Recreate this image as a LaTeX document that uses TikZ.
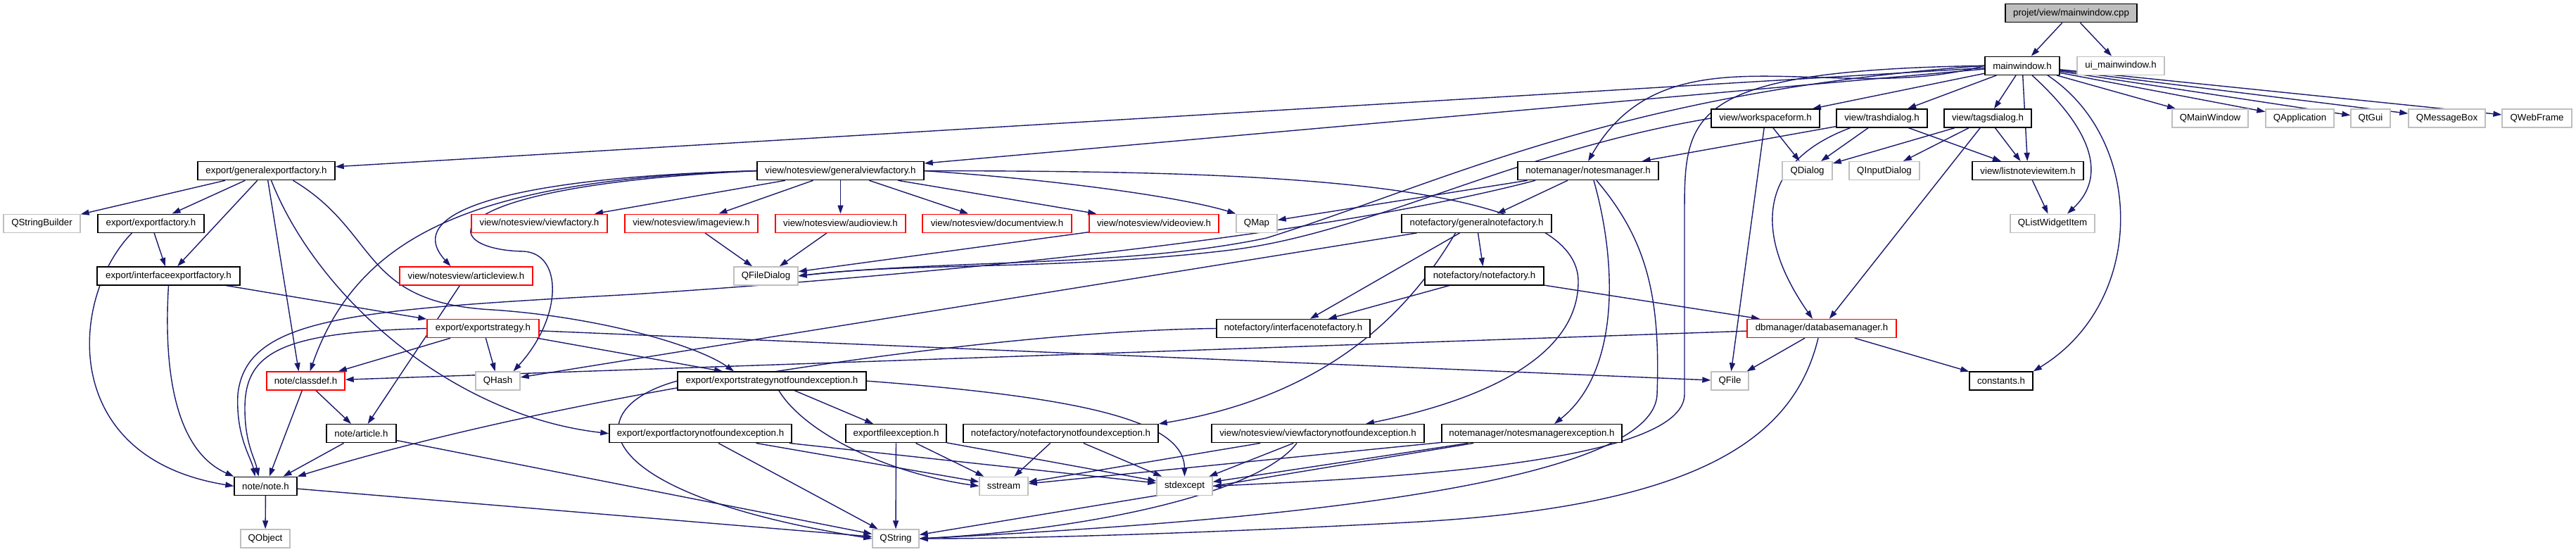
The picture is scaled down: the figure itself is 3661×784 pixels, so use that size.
\documentclass[tikz,border=0pt]{standalone}
\usepackage{fontspec}
\setmainfont{Liberation Sans}
\usetikzlibrary{arrows.meta}
\definecolor{edgeblue}{HTML}{191970}
\definecolor{greyseven}{HTML}{BFBFBF}
\newcommand{\dxfont}{\fontsize{13.3}{16}\selectfont}
\pgfdeclarelayer{background}
\pgfsetlayers{background,main}
\begin{document}
\begin{tikzpicture}[x=1pt,y=-1pt,
  nodebase/.style={rectangle, inner sep=0pt, minimum height=26pt, font=\dxfont, text=black, line width=1.4pt, fill=white},
  nb/.style={nodebase, draw=black},
  nr/.style={nodebase, draw=red},
  ng/.style={nodebase, draw=greyseven},
  nroot/.style={nodebase, draw=black, fill=greyseven},
  e/.style={draw=edgeblue, line width=1.4pt, -{Triangle[length=12pt,width=8pt]}}]
\useasboundingbox (0,0) rectangle (3661,784);
% row 0
\node[nroot, minimum width=187] (cpp) at (2943.5,18.7) {projet/view/mainwindow.cpp};
% row 1
\node[nb, minimum width=106] (mw) at (2874,93.3) {mainwindow.h};
\node[ng, minimum width=124] (ui) at (3014,93.3) {ui\_mainwindow.h};
% row 2
\node[nb, minimum width=154] (wsf) at (2509,168) {view/workspaceform.h};
\node[nb, minimum width=129] (trash) at (2674.5,168) {view/trashdialog.h};
\node[nb, minimum width=124] (tags) at (2825,168) {view/tagsdialog.h};
\node[ng, minimum width=108] (qmw) at (3141,168) {QMainWindow};
\node[ng, minimum width=97] (qapp) at (3268.5,168) {QApplication};
\node[ng, minimum width=56] (qgui) at (3369,168) {QtGui};
\node[ng, minimum width=109] (qmb) at (3477.5,168) {QMessageBox};
\node[ng, minimum width=99] (qwf) at (3605.5,168) {QWebFrame};
% row 3
\node[nb, minimum width=195] (gef) at (378.5,242.6) {export/generalexportfactory.h};
\node[nb, minimum width=237] (gvf) at (1194.5,242.6) {view/notesview/generalviewfactory.h};
\node[nb, minimum width=200] (nm) at (2257,242.6) {notemanager/notesmanager.h};
\node[ng, minimum width=71] (qdlg) at (2568.5,242.6) {QDialog};
\node[ng, minimum width=100] (qidlg) at (2678,242.6) {QInputDialog};
\node[nb, minimum width=158] (lnvi) at (2882,242.6) {view/listnoteviewitem.h};
% row 4
\node[ng, minimum width=109] (qsb) at (59.5,317.2) {QStringBuilder};
\node[nb, minimum width=151] (ef) at (214.5,317.2) {export/exportfactory.h};
\node[nr, minimum width=193] (vf) at (766.5,317.2) {view/notesview/viewfactory.h};
\node[nr, minimum width=189] (iv) at (982.5,317.2) {view/notesview/imageview.h};
\node[nr, minimum width=185] (av) at (1194.5,317.2) {view/notesview/audioview.h};
\node[nr, minimum width=212] (dv) at (1417,317.2) {view/notesview/documentview.h};
\node[nr, minimum width=184] (vv) at (1640,317.2) {view/notesview/videoview.h};
\node[ng, minimum width=58] (qmap) at (1786,317.2) {QMap};
\node[nb, minimum width=213] (gnf) at (2098.5,317.2) {notefactory/generalnotefactory.h};
\node[ng, minimum width=120] (qlwi) at (2917,317.2) {QListWidgetItem};
% row 5
\node[nb, minimum width=203] (ief) at (239.5,391.9) {export/interfaceexportfactory.h};
\node[nr, minimum width=189] (arv) at (662.5,391.9) {view/notesview/articleview.h};
\node[ng, minimum width=91] (qfd) at (1088.5,391.9) {QFileDialog};
\node[nb, minimum width=169] (nf) at (2109.5,391.9) {notefactory/notefactory.h};
% row 6
\node[nr, minimum width=159] (es) at (686.5,466.5) {export/exportstrategy.h};
\node[nb, minimum width=218] (inf) at (1838,466.5) {notefactory/interfacenotefactory.h};
\node[nr, minimum width=212] (dbm) at (2589,466.5) {dbmanager/databasemanager.h};
% row 7
\node[nr, minimum width=111] (cd) at (434.5,541.1) {note/classdef.h};
\node[ng, minimum width=63] (qhash) at (707.5,541.1) {QHash};
\node[nb, minimum width=268] (esnfe) at (1097,541.1) {export/exportstrategynotfoundexception.h};
\node[ng, minimum width=53] (qfile) at (2458.5,541.1) {QFile};
\node[nb, minimum width=90] (const) at (2844,541.1) {constants.h};
% row 8
\node[nb, minimum width=99] (art) at (513.5,615.7) {note/article.h};
\node[nb, minimum width=259] (efnfe) at (995.5,615.7) {export/exportfactorynotfoundexception.h};
\node[nb, minimum width=143] (efe) at (1273.5,615.7) {exportfileexception.h};
\node[nb, minimum width=277] (nfnfe) at (1507.5,615.7) {notefactory/notefactorynotfoundexception.h};
\node[nb, minimum width=302] (vfnfe) at (1873,615.7) {view/notesview/viewfactorynotfoundexception.h};
\node[nb, minimum width=256] (nme) at (2177,615.7) {notemanager/notesmanagerexception.h};
% row 9
\node[nb, minimum width=89] (note) at (377.5,690.4) {note/note.h};
\node[ng, minimum width=69] (sstream) at (1426.5,690.4) {sstream};
\node[ng, minimum width=79] (stdexcept) at (1683.5,690.4) {stdexcept};
% row 10
\node[ng, minimum width=70] (qobj) at (377,765) {QObject};
\node[ng, minimum width=66] (qstr) at (1273,765) {QString};

% ---- edges ----
\begin{pgfonlayer}{background}
\draw[e] (cpp) -- (mw);
\draw[e] (cpp) -- (ui);
\foreach \t in {wsf,trash,tags,qmw,qapp,qgui,qmb,qwf,lnvi,gef,gvf} \draw[e] (mw) -- (\t);
\draw[e] (mw.west) to[out=195,in=60] (nm.north);
\draw[e] ([xshift=14]mw.south) .. controls (2990,200) and (2985,260) .. ([xshift=21]qlwi.north);
\draw[e] ([xshift=36]mw.south) .. controls (3050,200) and (3050,430) .. (const.north east);
\draw[e] (mw.west) .. controls (2400,100) and (2394,160) .. (2394,300) -- (2394,560) .. controls (2394,660) and (1950,680) .. (stdexcept.east);
\draw[e] (mw.west) .. controls (2300,130) and (2050,260) .. (1800,338) .. controls (1600,380) and (1350,368) .. (qfd.east);

\draw[e] (wsf) -- (qdlg);
\draw[e] (wsf) -- (qfile);
\draw[e] (wsf.west) .. controls (2150,215) and (1950,330) .. (1750,355) .. controls (1500,385) and (1300,372) .. (qfd.east);

\draw[e] (trash) -- (nm);
\draw[e] (trash) -- (qdlg);
\draw[e] (trash) -- (lnvi);
\draw[e] ([xshift=-45]trash.south) .. controls (2500,230) and (2490,330) .. ([xshift=-13]dbm.north);

\draw[e] (tags) -- (qdlg);
\draw[e] (tags) -- (qidlg);
\draw[e] (tags) -- (lnvi);
\draw[e] (tags) -- (dbm);

\draw[e] (lnvi) -- (qlwi);

\draw[e] (gef) -- (qsb);
\draw[e] (gef) -- (ef);
\draw[e] (gef) -- (ief);
\draw[e] (gef) -- ([xshift=-10]cd.north);
\draw[e] ([xshift=7]gef.south) .. controls (450,420) and (640,590) .. (efnfe.west);
\draw[e] ([xshift=38]gef.south) .. controls (540,330) and (510,430) .. (700,440) .. controls (850,450) and (990,490) .. ([xshift=-54]esnfe.north);

\draw[e] (ef) -- (ief);
\draw[e] ([xshift=-27]ef.south) .. controls (100,420) and (80,650) .. (note.west);
\draw[e] (ief) -- (es);
\draw[e] (ief.south) .. controls (232,530) and (250,640) .. (note.north west);

\foreach \t in {vf,iv,av,dv,vv} \draw[e] (gvf) -- (\t);
\draw[e] (gvf.east) .. controls (1500,255) and (1680,280) .. (qmap.north west);
\draw[e] (gvf.west) .. controls (780,250) and (560,290) .. ([xshift=-22]arv.north);
\draw[e] (gvf.west) .. controls (680,255) and (510,330) .. ([xshift=6]cd.north);
\draw[e] (gvf.west) .. controls (600,265) and (620,355) .. (744,357) .. controls (800,360) and (800,450) .. ([xshift=22]qhash.north);
\draw[e] (gvf.east) .. controls (1750,243) and (2243,250) .. (2243,400) .. controls (2243,510) and (2100,570) .. ([xshift=68]vfnfe.north);

\draw[e] (nm) -- (qmap);
\draw[e] (nm) -- (gnf);
\draw[e] ([xshift=8]nm.south) .. controls (2300,380) and (2300,530) .. ([xshift=32]nme.north);
\draw[e] ([xshift=12]nm.south) .. controls (2340,340) and (2360,420) .. (2355,560) .. controls (2350,700) and (1700,745) .. (qstr.east);
\draw[e] ([xshift=-75]nm.south) .. controls (1900,330) and (1400,385) .. (900,418) .. controls (500,440) and (350,450) .. (338,560) .. controls (335,620) and (357,650) .. ([xshift=-15]note.north);

\draw[e] (iv) -- (qfd);
\draw[e] (av) -- (qfd);
\draw[e] (vv) -- (qfd);
\draw[e] (arv) -- (art);

\draw[e] (gnf) -- (nf);
\draw[e] (gnf) -- (inf);
\draw[e] ([xshift=-30]gnf.south) .. controls (2010,430) and (1900,560) .. (nfnfe.north east);
\draw[e] (gnf) -- (qhash);
\draw[e] (nf) -- (inf);
\draw[e] (nf) -- (dbm);

\draw[e] (es) -- (cd);
\draw[e] (es) -- (qhash);
\draw[e] (es) -- ([xshift=-70]esnfe.north);
\draw[e] (es) -- (qfile);
\draw[e] (es.west) .. controls (400,472) and (348,500) .. (348,580) .. controls (348,630) and (362,650) .. ([xshift=-10]note.north);

\draw[e] (inf.west) .. controls (1400,470) and (800,560) .. (note.north east);

\draw[e] (dbm) -- (cd);
\draw[e] (dbm) -- (qfile);
\draw[e] (dbm) -- (const);
\draw[e] ([xshift=-5]dbm.south) .. controls (2550,620) and (2420,720) .. (2000,742) .. controls (1700,758) and (1450,765) .. (qstr.east);

\draw[e] (cd) -- (note);
\draw[e] (cd) -- (art);
\draw[e] (art) -- (note);
\draw[e] (art) -- (qstr);
\draw[e] (note) -- (qobj);
\draw[e] (note) -- (qstr);

\draw[e] (esnfe) -- (efe);
\draw[e] ([xshift=10]esnfe.south) .. controls (1140,610) and (1250,670) .. (sstream.west);
\draw[e] (esnfe.east) .. controls (1550,565) and (1683,600) .. (stdexcept.north);
\draw[e] (esnfe.west) .. controls (820,580) and (830,700) .. (qstr.west);

\foreach \s in {efnfe,efe,nfnfe,vfnfe,nme} {\draw[e] (\s) -- (sstream); \draw[e] (\s) -- (stdexcept);}
\draw[e] (efnfe) -- (qstr);
\draw[e] (efe) -- (qstr);
\draw[e] ([xshift=-30]vfnfe.south) .. controls (1790,700) and (1550,752) .. (qstr.east);
\draw[e] (nme) -- (qstr);
\end{pgfonlayer}
\end{tikzpicture}
\end{document}
